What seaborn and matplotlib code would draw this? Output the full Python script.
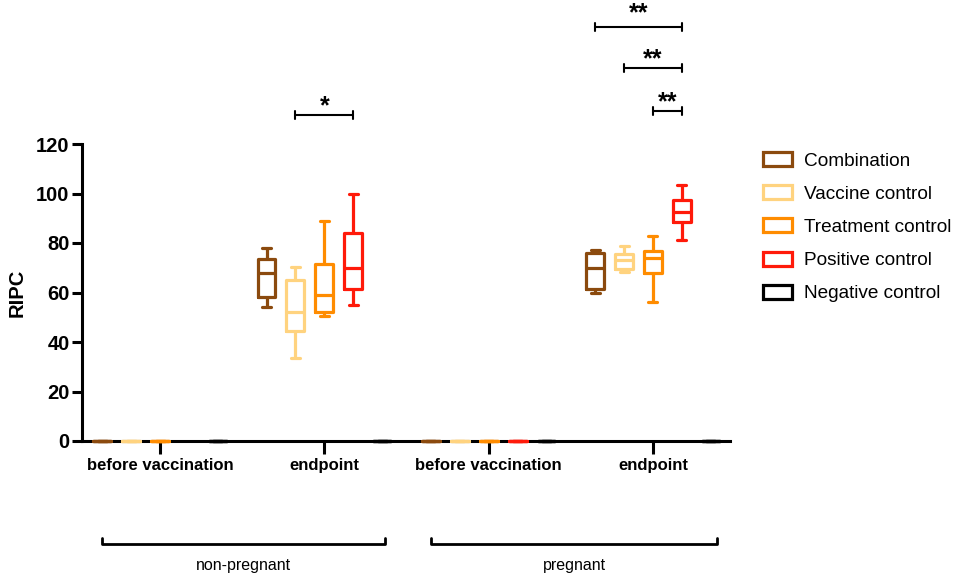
import pandas as pd
import seaborn as sns
import matplotlib.pyplot as plt
from matplotlib.patches import Patch

# categorias del eje x (unicas) y sus etiquetas visibles
categories = ["np before vaccination", "np endpoint", "p before vaccination", "p endpoint"]
tick_labels = ["before vaccination", "endpoint", "before vaccination", "endpoint"]
groups = ["Combination", "Vaccine control", "Treatment control", "Positive control", "Negative control"]
colors = ["#8B4A0E", "#FFD37F", "#FF8C00", "#FF1A0A", "#000000"]

# cinco valores por caja: minimo, Q1, mediana, Q3, maximo
combination = [[0, 0, 0, 0, 0], [54, 58, 68, 73.5, 78], [0, 0, 0, 0, 0], [60, 61.3, 70, 76, 77]]
vaccine_control = [[0, 0, 0, 0, 0], [33.5, 44.5, 52, 65, 70.5], [0, 0, 0, 0, 0], [68.3, 69.4, 73, 75.6, 78.8]]
treatment_control = [[0, 0, 0, 0, 0], [50.5, 52, 59, 71.5, 89], [0, 0, 0, 0, 0], [56.3, 68, 74, 76.8, 83]]
positive_control = [[], [55, 61.5, 70, 84, 100], [0, 0, 0, 0, 0], [81.2, 88.4, 92.4, 97.4, 103.4]]
negative_control = [[0, 0, 0, 0, 0], [0, 0, 0, 0, 0], [0, 0, 0, 0, 0], [0, 0, 0, 0, 0]]

series = [combination, vaccine_control, treatment_control, positive_control, negative_control]

rows = []
for g, values in zip(groups, series):
    for cat, vals in zip(categories, values):
        for v in vals:
            rows.append({"time": cat, "group": g, "RIPC": v})
df = pd.DataFrame(rows)

sns.set_style("ticks")
plt.rcParams['font.family'] = ['Liberation Sans', 'DejaVu Sans']
plt.rcParams.update({'text.color': 'black', 'axes.labelcolor': 'black',
                     'xtick.color': 'black', 'ytick.color': 'black',
                     'axes.edgecolor': 'black'})

fig = plt.figure(figsize=(9.57, 5.78), dpi=100)
ax = fig.add_axes([82 / 957, 137 / 578, 648 / 957, 297 / 578])

width = 0.88
sns.boxplot(data=df, x="time", y="RIPC", hue="group", order=categories, hue_order=groups,
            palette=colors, fill=False, whis=(0, 100), width=width, gap=0.38,
            linewidth=2.3, legend=False, ax=ax)

for art in ax.lines + ax.patches:
    art.set_clip_on(False)
    art.set_zorder(3)

ax.set_xlim(-0.475, 3.469)
ax.set_ylim(0, 120)
ax.set_yticks(range(0, 121, 20))
ax.set_xticks(range(4))
ax.set_xticklabels(tick_labels, fontsize=12, fontweight='bold')
ax.set_yticklabels([str(t) for t in range(0, 121, 20)], fontsize=14.5, fontweight='bold')
ax.set_xlabel("")
ax.set_ylabel("RIPC", fontsize=14.5, fontweight='bold', labelpad=7)
ax.tick_params(axis='y', length=7, width=2.2, pad=2)
ax.tick_params(axis='x', length=9, width=2.2, pad=3)
for s in ["top", "right"]:
    ax.spines[s].set_visible(False)
for s in ["left", "bottom"]:
    ax.spines[s].set_linewidth(2.2)

# corchetes de significancia
step = width / len(groups)


def bracket(x1, x2, y, text, off=3.5):
    h = 1.6
    ax.plot([x1, x2], [y, y], color='black', lw=1.5, clip_on=False)
    ax.plot([x1, x1], [y - h, y + h], color='black', lw=1.5, clip_on=False)
    ax.plot([x2, x2], [y - h, y + h], color='black', lw=1.5, clip_on=False)
    ax.text((x1 + x2) / 2, y + off, text, ha='center', va='center', fontsize=18,
            fontweight='bold', clip_on=False)


bracket(1 - step, 1 + step, 131.7, "*")
bracket(3 - 2 * step, 3 + step, 167.3, "**", off=5.5)
bracket(3 - step, 3 + step, 150.6, "**")
bracket(3, 3 + step, 133.3, "**")

# corchetes inferiores de grupo
trans = ax.get_xaxis_transform()
for x1, x2, label in [(-0.355, 1.37, "non-pregnant"), (1.65, 3.39, "pregnant")]:
    ax.plot([x1, x1, x2, x2], [-0.327, -0.347, -0.347, -0.327], color='black', lw=2,
            transform=trans, clip_on=False)
    ax.text((x1 + x2) / 2, -0.418, label, ha='center', va='center', fontsize=11.5,
            transform=trans)

handles = [Patch(facecolor='white', edgecolor=c, linewidth=2.3, label=g) for g, c in zip(groups, colors)]
fig.legend(handles=handles, loc='upper left', bbox_to_anchor=(763 / 957, 1 - 152 / 578),
           frameon=False, fontsize=13.7, handlelength=1.5, handleheight=0.75,
           handletextpad=0.65, labelspacing=0.82, borderpad=0, borderaxespad=0)

fig.savefig("out.png", dpi=100)
